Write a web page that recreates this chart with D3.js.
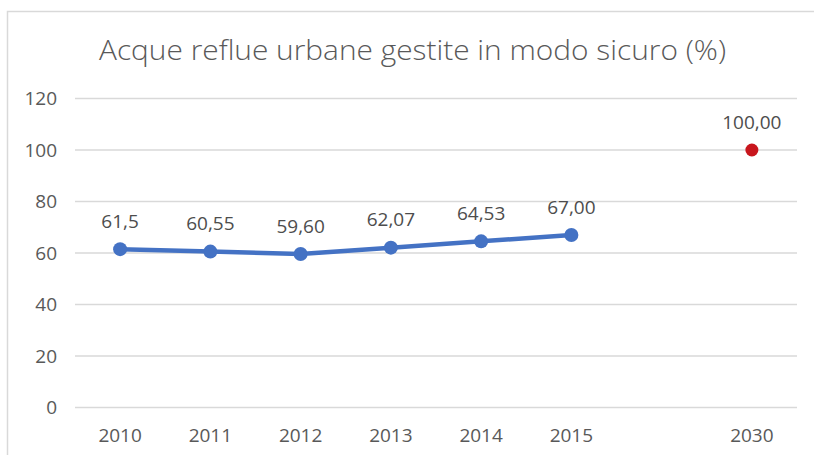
<!doctype html>
<html>
<head>
<meta charset="utf-8">
<style>
  body { margin: 0; background: white; }
  svg text { font-family: "Open Sans", "Liberation Sans", sans-serif; }
</style>
<script src="https://cdnjs.cloudflare.com/ajax/libs/d3/7.8.5/d3.min.js"></script>
</head>
<body>
<div id="chart"></div>
<script>
  // categories (blank slot between 2015 and 2030, as in the sheet)
  var years = ["2010", "2011", "2012", "2013", "2014", "2015", " ", "2030"];
  var actualYears = ["2010", "2011", "2012", "2013", "2014", "2015"];
  var actualValues = [61.5, 60.55, 59.60, 62.07, 64.53, 67.00];
  var actualLabels = ["61,5", "60,55", "59,60", "62,07", "64,53", "67,00"];
  var targetYears = ["2030"];
  var targetValues = [100];
  var targetLabels = ["100,00"];
  var yTicks = [0, 20, 40, 60, 80, 100, 120];

  var width = 814, height = 455;

  var svg = d3.select("#chart").append("svg")
    .attr("width", width)
    .attr("height", height);

  // chart area outline
  svg.append("rect")
    .attr("x", 7.5).attr("y", 11.5)
    .attr("width", 830).attr("height", 470)
    .attr("fill", "white")
    .attr("stroke", "#d9d9d9")
    .attr("stroke-width", 1.5);

  var x = d3.scaleBand().domain(years).range([75, 797]);
  var y = d3.scaleLinear().domain([0, 120]).range([407.5, 98.5]);
  var cx = function (d) { return x(d) + x.bandwidth() / 2; };

  // title, squeezed to the original's width (Calibri Light is narrower)
  svg.append("text")
    .attr("x", 412.5).attr("y", 60)
    .attr("text-anchor", "middle")
    .attr("fill", "#595959")
    .attr("textLength", 627)
    .attr("lengthAdjust", "spacingAndGlyphs")
    .style("font-size", "28px")
    .style("font-weight", 300)
    .text("Acque reflue urbane gestite in modo sicuro (%)");

  // gridlines
  svg.append("g").selectAll("line")
    .data(yTicks).enter().append("line")
    .attr("x1", 75).attr("x2", 797)
    .attr("y1", function (d) { return y(d); })
    .attr("y2", function (d) { return y(d); })
    .attr("stroke", "#d9d9d9")
    .attr("stroke-width", 1.5);

  // y labels
  svg.append("g").selectAll("text")
    .data(yTicks).enter().append("text")
    .attr("x", 57)
    .attr("y", function (d) { return y(d); })
    .attr("dy", "0.35em")
    .attr("text-anchor", "end")
    .attr("fill", "#595959")
    .style("font-size", "19px")
    .text(function (d) { return d; });

  // x labels
  svg.append("g").selectAll("text")
    .data(years).enter().append("text")
    .attr("x", cx)
    .attr("y", 435)
    .attr("dy", "0.35em")
    .attr("text-anchor", "middle")
    .attr("fill", "#595959")
    .style("font-size", "19px")
    .text(function (d) { return d; });

  // actual series
  var line = d3.line()
    .x(function (d, i) { return cx(actualYears[i]); })
    .y(function (d) { return y(d); });

  svg.append("path")
    .datum(actualValues)
    .attr("d", line)
    .attr("fill", "none")
    .attr("stroke", "#4472c4")
    .attr("stroke-width", 4.5)
    .attr("stroke-linejoin", "round");

  svg.append("g").selectAll("circle")
    .data(actualValues).enter().append("circle")
    .attr("cx", function (d, i) { return cx(actualYears[i]); })
    .attr("cy", function (d) { return y(d); })
    .attr("r", 7)
    .attr("fill", "#4472c4");

  svg.append("g").selectAll("text")
    .data(actualValues).enter().append("text")
    .attr("x", function (d, i) { return cx(actualYears[i]); })
    .attr("y", function (d) { return y(d) - 28; })
    .attr("dy", "0.35em")
    .attr("text-anchor", "middle")
    .attr("fill", "#4d4d4d")
    .style("font-size", "19px")
    .text(function (d, i) { return actualLabels[i]; });

  // 2030 target
  svg.append("g").selectAll("circle")
    .data(targetValues).enter().append("circle")
    .attr("cx", function (d, i) { return cx(targetYears[i]); })
    .attr("cy", function (d) { return y(d); })
    .attr("r", 6.5)
    .attr("fill", "#c8161d");

  svg.append("g").selectAll("text")
    .data(targetValues).enter().append("text")
    .attr("x", function (d, i) { return cx(targetYears[i]); })
    .attr("y", function (d) { return y(d) - 28; })
    .attr("dy", "0.35em")
    .attr("text-anchor", "middle")
    .attr("fill", "#4d4d4d")
    .style("font-size", "19px")
    .text(function (d, i) { return targetLabels[i]; });
</script>
</body>
</html>
